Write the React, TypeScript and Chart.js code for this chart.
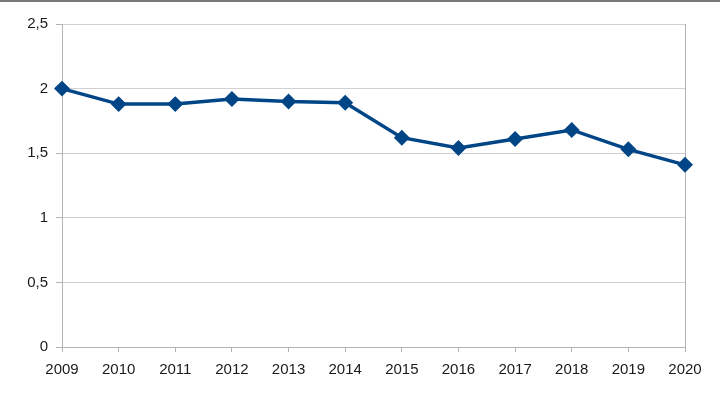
import React, { useEffect, useRef } from "react";
import { Chart, registerables } from "chart.js";

Chart.register(...registerables);

const years = ["2009", "2010", "2011", "2012", "2013", "2014", "2015", "2016", "2017", "2018", "2019", "2020"];
const values = [2.0, 1.88, 1.88, 1.92, 1.9, 1.89, 1.62, 1.54, 1.61, 1.68, 1.53, 1.41];
const yMin = 0;
const yMax = 2.5;
const yStep = 0.5;

const FONT = "'Liberation Sans', Arial, sans-serif";
const GRID = "#d0d0d0";
const AXIS = "#b3b3b3";
const LINE = "#004586";

export default function App() {
  const ref = useRef<HTMLCanvasElement | null>(null);

  useEffect(() => {
    document.body.style.margin = "0";
    const canvas = ref.current;
    if (!canvas) return;
    const topLine = {
      id: "topLine",
      beforeDraw(chart: any) {
        const c = chart.ctx;
        c.save();
        c.fillStyle = "#ffffff";
        c.fillRect(0, 0, chart.width, chart.height);
        c.fillStyle = "#7a7a7a";
        c.fillRect(0, 0, chart.width, 2);
        c.restore();
      },
    };
    const last = years.length - 1;
    const chart = new Chart(canvas, {
      type: "line",
      data: {
        labels: years,
        datasets: [
          {
            data: values,
            borderColor: LINE,
            backgroundColor: LINE,
            borderWidth: 3.5,
            pointStyle: "rectRot",
            pointRadius: 5.5,
            pointHoverRadius: 5.5,
            pointBackgroundColor: LINE,
            pointBorderColor: LINE,
            tension: 0,
          },
        ],
      },
      options: {
        animation: false,
        responsive: false,
        devicePixelRatio: 1,
        layout: { padding: { left: 0, right: 35, top: 24, bottom: 0 } },
        plugins: { legend: { display: false }, tooltip: { enabled: false } },
        scales: {
          x: {
            offset: false,
            grid: {
              display: true,
              drawOnChartArea: true,
              color: (ctx: any) => (ctx.index === last ? AXIS : "rgba(0,0,0,0)"),
              tickColor: AXIS,
              tickLength: 5,
              lineWidth: 1,
            },
            border: { display: true, color: AXIS, width: 1 },
            ticks: {
              color: "#1a1a1a",
              font: { family: FONT, size: 15 },
              padding: 9,
              maxRotation: 0,
              autoSkip: false,
            },
            afterFit: (scale: any) => {
              scale.height = 59;
            },
          },
          y: {
            min: yMin,
            max: yMax,
            grid: {
              color: GRID,
              tickColor: AXIS,
              tickLength: 6,
              lineWidth: 1,
            },
            border: { display: true, color: AXIS, width: 1 },
            ticks: {
              stepSize: yStep,
              color: "#1a1a1a",
              font: { family: FONT, size: 15 },
              padding: 8,
              callback: (v: any) => String(v).replace(".", ","),
            },
            afterFit: (scale: any) => {
              scale.width = 62;
            },
          },
        },
      },
      plugins: [topLine],
    });
    return () => chart.destroy();
  }, []);

  return (
    <div style={{ width: 720, height: 406 }}>
      <canvas ref={ref} width={720} height={406} style={{ display: "block" }} />
    </div>
  );
}
